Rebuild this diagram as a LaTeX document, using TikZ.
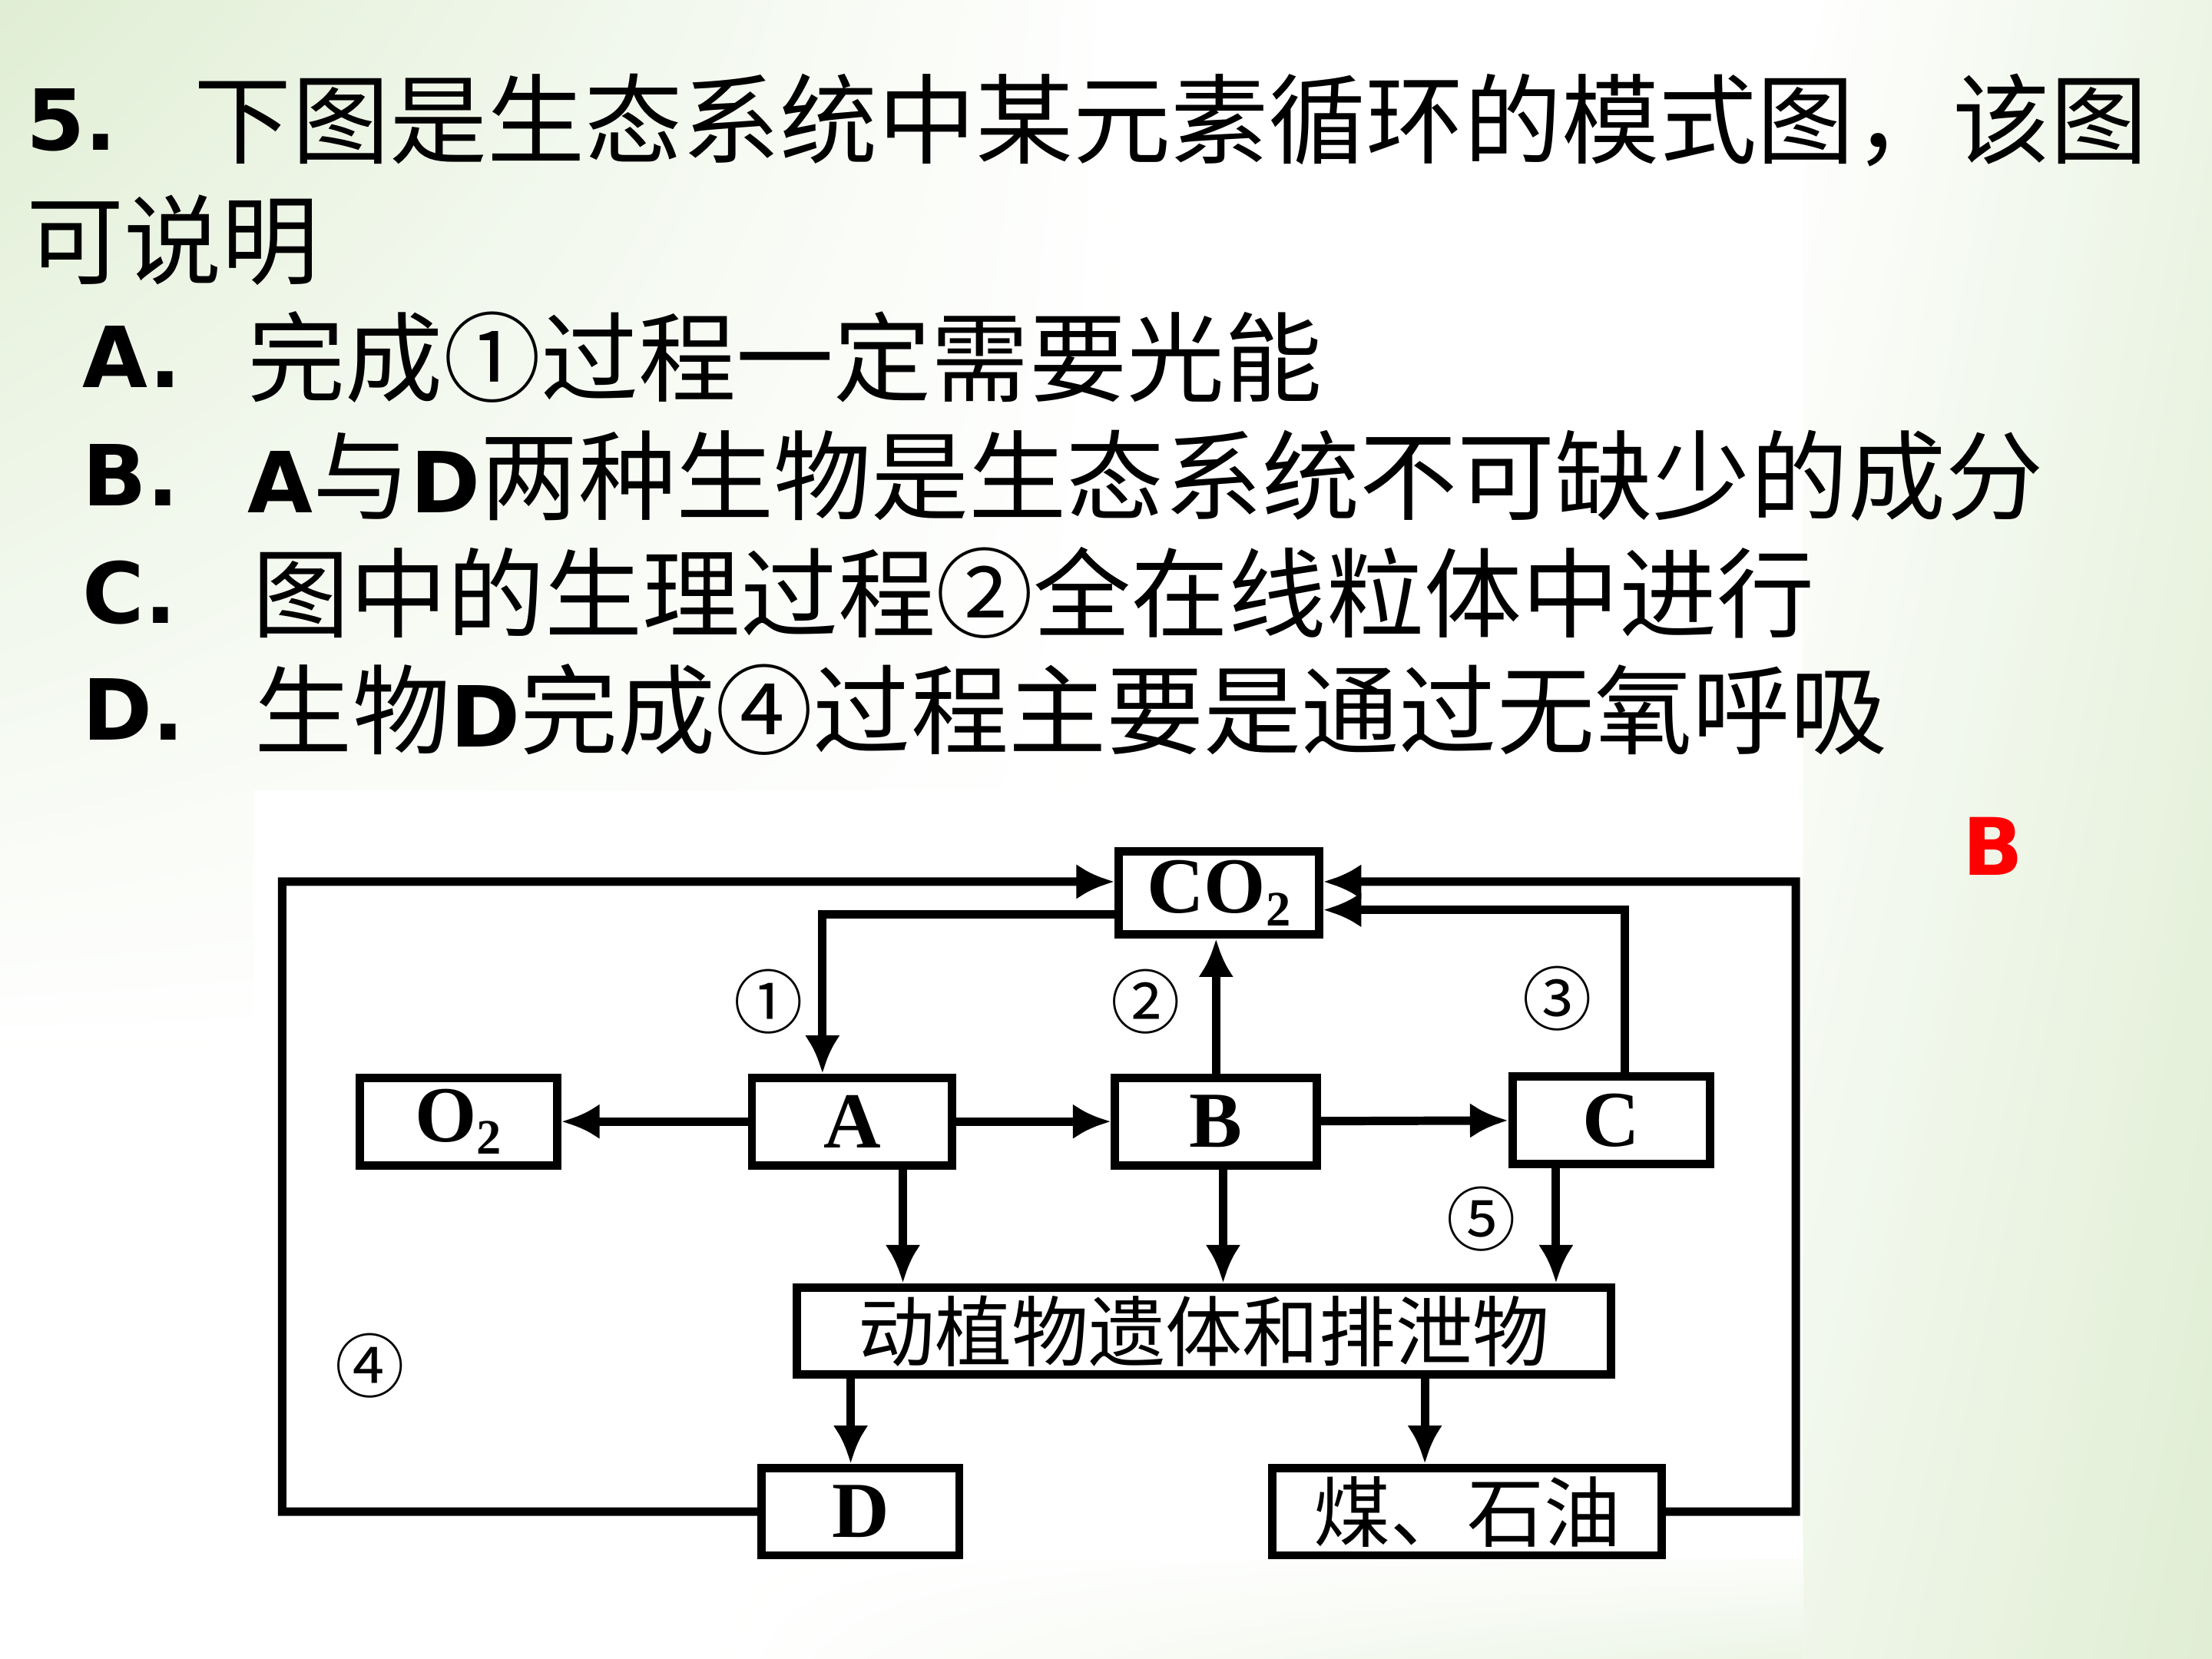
\documentclass[tikz,border=0pt]{standalone}
\usepackage{fontspec}
\setmainfont{DejaVu Sans}
\newfontfamily\cjk{Noto Sans CJK SC}
\newfontfamily\latb{DejaVu Sans}
\newfontfamily\dgserif{Liberation Serif}
\usetikzlibrary{arrows.meta, positioning, calc, shadings}
\definecolor{bgg}{RGB}{224,238,212}
\newcommand{\lat}[1]{{\latb\bfseries\fontsize{17}{20}\selectfont #1}}
\newcommand{\subtwo}{\raisebox{-0.35ex}{\fontsize{10}{10}\selectfont 2}}

\begin{document}
\begin{tikzpicture}[x=1cm, y=-1cm,
    txt/.style={anchor=west, inner sep=0pt, font=\cjk\fontsize{19.7}{22}\selectfont},
    opt/.style={anchor=west, inner sep=0pt, font=\latb\bfseries\fontsize{17}{20}\selectfont},
    box/.style={draw, line width=1.7pt, minimum height=0.62cm, inner sep=0pt, fill=white,
        font=\dgserif\bfseries\fontsize{16}{16}\selectfont},
    cbox/.style={box, font=\cjk\fontsize{15.5}{16}\selectfont},
    arr/.style={-{Latex[length=2.7mm,width=2.5mm]}, line width=1.7pt},
    num/.style={inner sep=0pt, font=\cjk\fontsize{14}{14}\selectfont}]
    \useasboundingbox (0,0) rectangle (15.68,11.76);

    % Background
    \fill[white] (0,0) rectangle (15.68,11.76);
    \shade[upper left=bgg, upper right=white, lower left=white, lower right=white] (0,0) rectangle (8,7.5);
    \shade[upper left=white, upper right=bgg!60!white, lower left=bgg!50!white, lower right=bgg] (12.78,0) rectangle (15.68,11.76);
    \shade[upper left=white, upper right=white, lower left=white, lower right=bgg!60!white] (5,10.9) rectangle (12.78,11.76);
    \fill[white] (1.80,5.60) rectangle (12.78,11.05);

    % Question
    \node[opt] (qnum) at (0.18,0.85) {5.};
    \node[txt] (qline1) at (1.37,0.85) {下图是生态系统中某元素循环的模式图，该图};
    \node[txt] (qline2) at (0.18,1.70) {可说明};
    \node[opt] (optA) at (0.58,2.53) {A.};
    \node[txt] (optAtxt) at (1.75,2.53) {完成①过程一定需要光能};
    \node[opt] (optB) at (0.58,3.37) {B.};
    \node[txt] (optBtxt) at (1.75,3.37) {\lat{A}与\lat{D}两种生物是生态系统不可缺少的成分};
    \node[opt] (optC) at (0.58,4.20) {C.};
    \node[txt] (optCtxt) at (1.78,4.20) {图中的生理过程②全在线粒体中进行};
    \node[opt] (optD) at (0.58,5.03) {D.};
    \node[txt] (optDtxt) at (1.80,5.03) {生物\lat{D}完成④过程主要是通过无氧呼吸};

    % Answer
    \node[text=red, font=\latb\bfseries\fontsize{16}{16}\selectfont] (ans) at (14.13,6.00) {B};

    % Boxes
    \node[box, minimum width=1.42cm, minimum height=0.59cm] (co2) at (8.64,6.33) {CO\subtwo};
    \node[box, minimum width=1.40cm] (o2) at (3.25,7.95) {O\subtwo};
    \node[box, minimum width=1.42cm] (a) at (6.04,7.95) {A};
    \node[box, minimum width=1.43cm] (b) at (8.62,7.95) {B};
    \node[box, minimum width=1.40cm] (c) at (11.42,7.94) {C};
    \node[cbox, minimum width=5.77cm] (rem) at (8.535,9.435) {动植物遗体和排泄物};
    \node[box, minimum width=1.40cm] (d) at (6.10,10.715) {D};
    \node[cbox, minimum width=2.76cm] (fuel) at (10.40,10.715) {煤、石油};

    % Loop corners
    \coordinate (lc) at (2.00,6.25);
    \coordinate (rc) at (12.73,6.25);

    % Arrows to and from CO2
    \draw[arr] (d.west) -| (lc) -- ([yshift=0.08cm]co2.west);
    \draw[arr] (fuel.east) -| (rc) -- ([yshift=0.08cm]co2.east);
    \draw[arr] ([yshift=-0.15cm]co2.west) -| ([xshift=-0.21cm]a.north);
    \draw[arr] (b.north) -- (b.north |- co2.south);
    \draw[arr] ([xshift=0.10cm]c.north) |- ([yshift=-0.12cm]co2.east);

    % Food chain
    \draw[arr] (a) -- (o2);
    \draw[arr] (a) -- (b);
    \draw[arr] (b) -- (c);

    % Down to remains
    \draw[arr] ([xshift=0.36cm]a.south) -- ([xshift=0.36cm]a.south |- rem.north);
    \draw[arr] ([xshift=0.05cm]b.south) -- ([xshift=0.05cm]b.south |- rem.north);
    \draw[arr] ([xshift=-0.39cm]c.south) -- ([xshift=-0.39cm]c.south |- rem.north);
    \draw[arr] ([xshift=-0.07cm]d.north |- rem.south) -- ([xshift=-0.07cm]d.north);
    \draw[arr] ([xshift=-0.30cm]fuel.north |- rem.south) -- ([xshift=-0.30cm]fuel.north);

    % Process labels
    \node[num] (n1) at (5.45,7.10) {①};
    \node[num] (n2) at (8.12,7.10) {②};
    \node[num] (n3) at (11.04,7.08) {③};
    \node[num] (n4) at (2.62,9.68) {④};
    \node[num] (n5) at (10.50,8.64) {⑤};
\end{tikzpicture}
\end{document}
